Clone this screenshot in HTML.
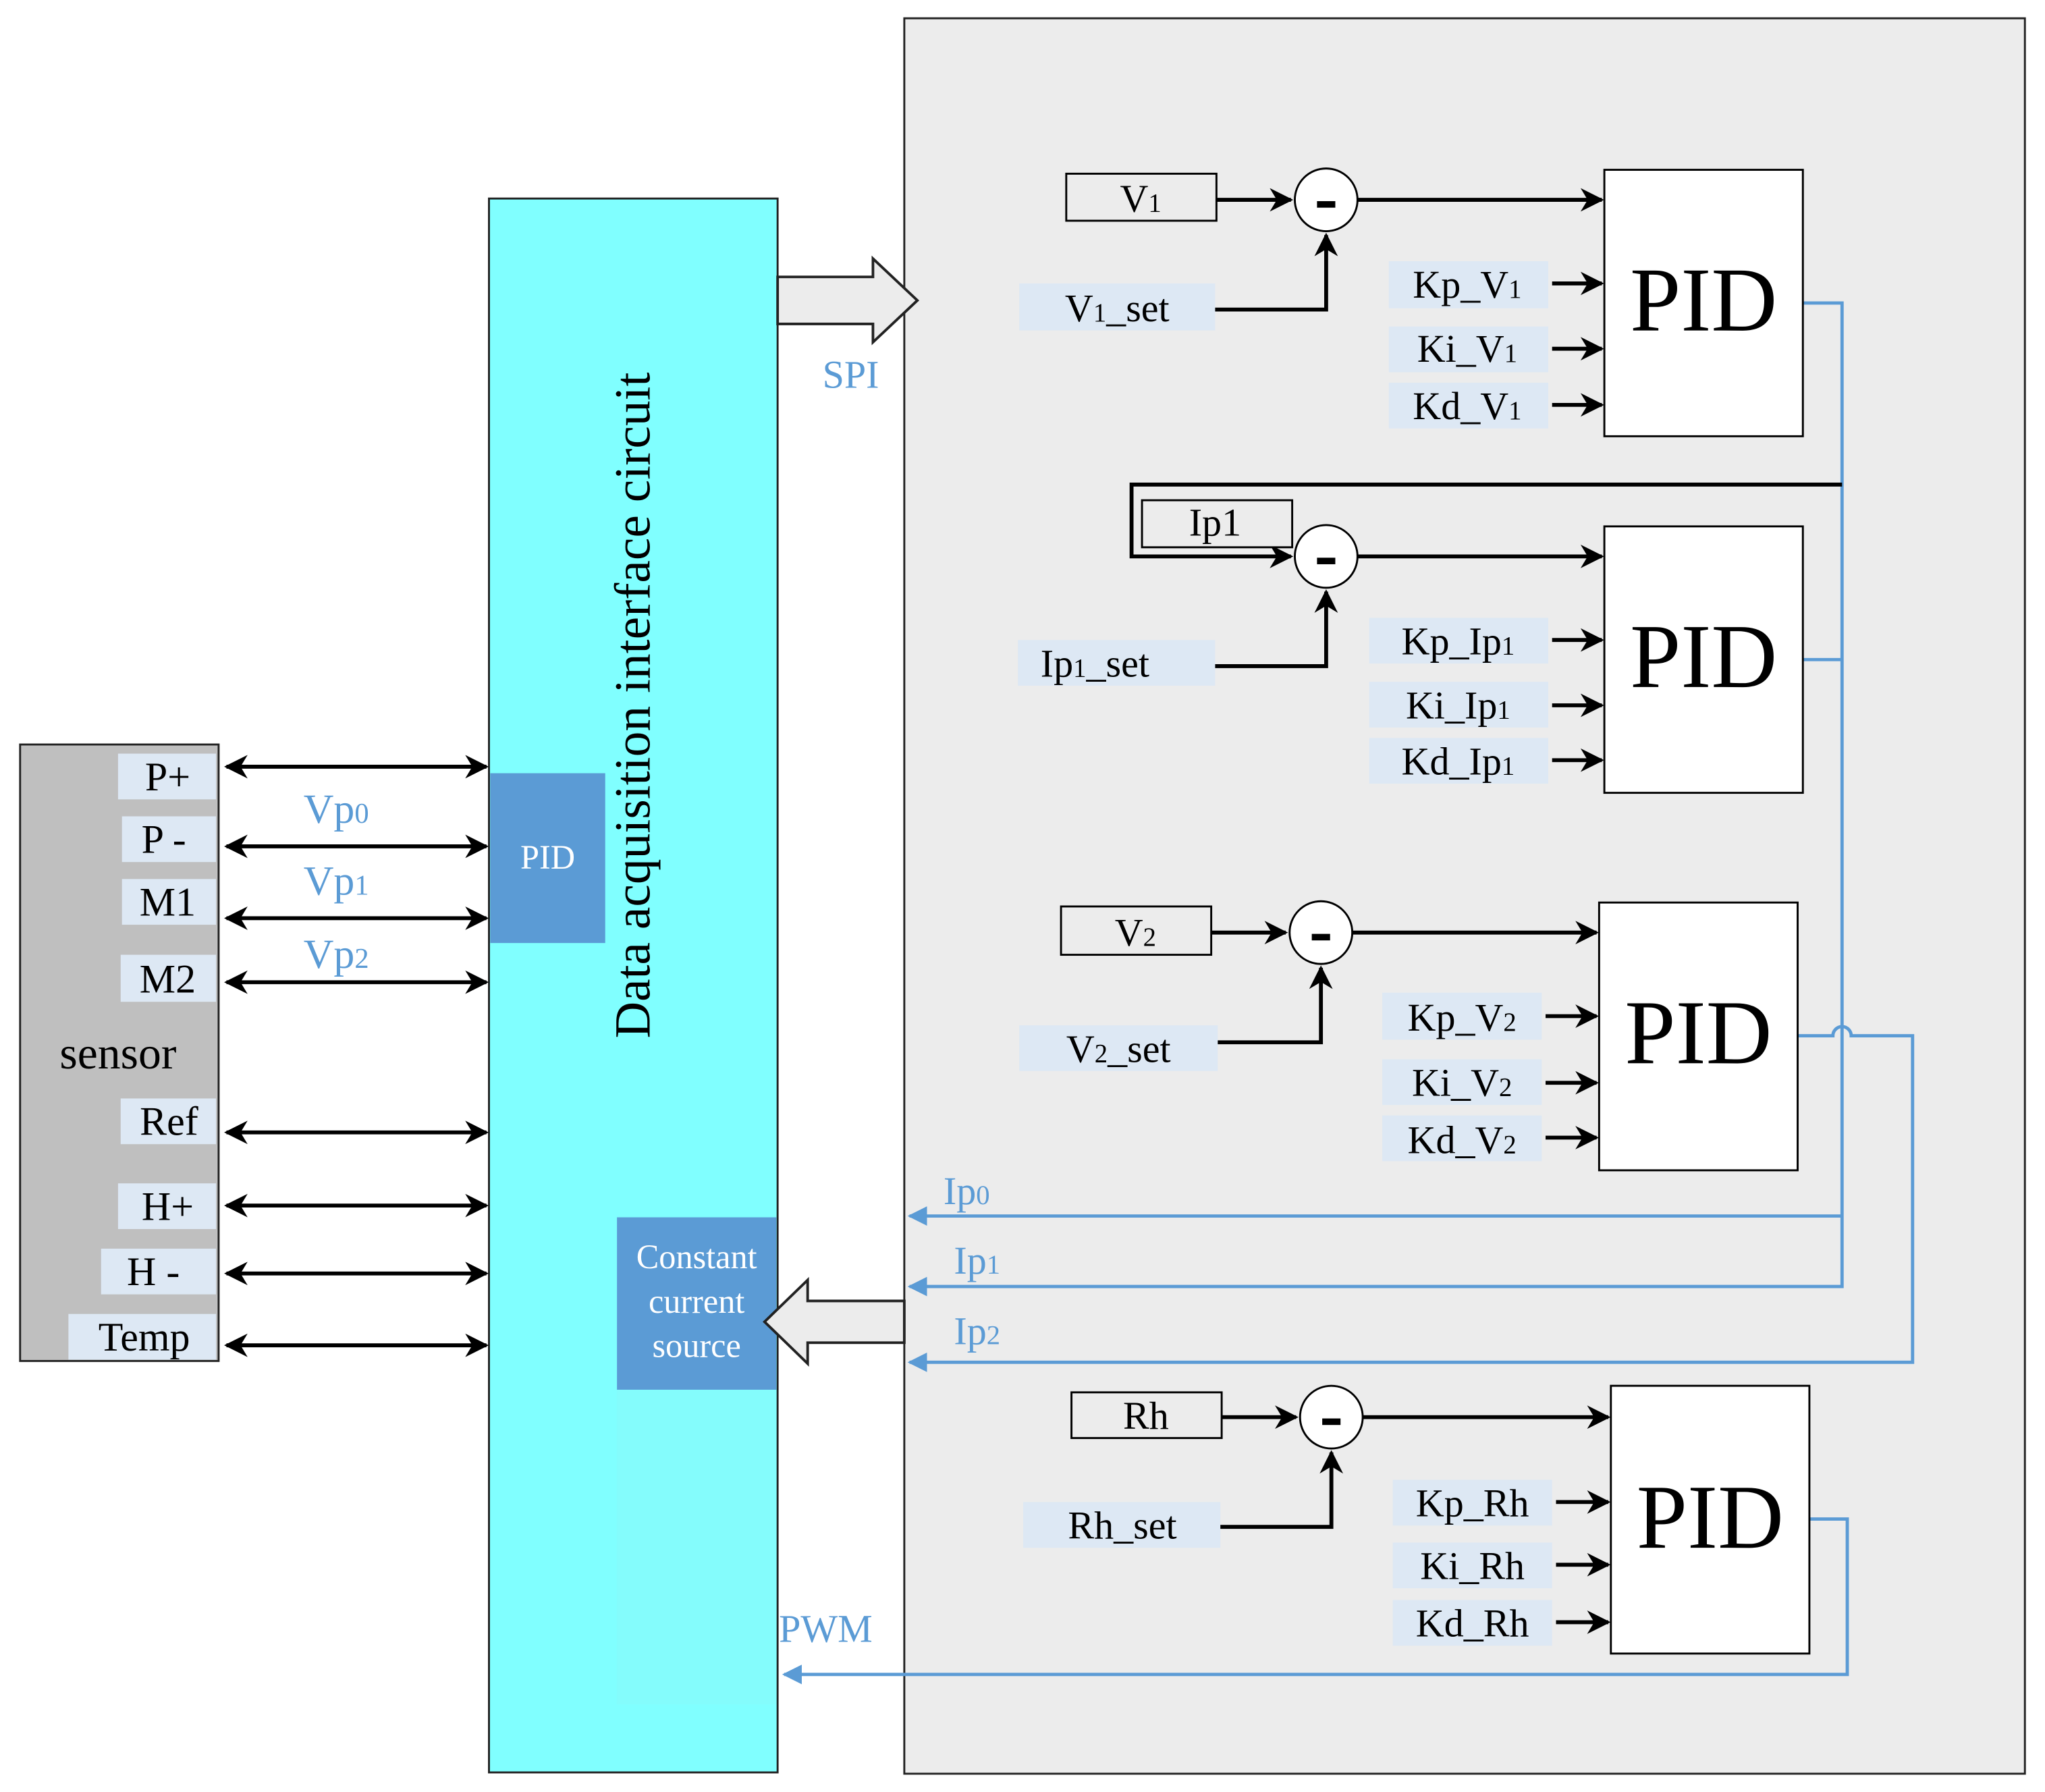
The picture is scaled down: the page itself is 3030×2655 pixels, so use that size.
<!DOCTYPE html>
<html><head><meta charset="utf-8"><style>
html,body{margin:0;padding:0;background:#fff}
svg{display:block}
text{font-family:"Liberation Serif",serif}
</style></head><body>
<svg width="3030" height="2655" viewBox="0 0 1565 1372" xmlns="http://www.w3.org/2000/svg">
<defs>
<marker id="a" viewBox="0 0 10 10" refX="9" refY="5" markerWidth="6" markerHeight="6" orient="auto-start-reverse"><path d="M0,0 L10,5 L0,10 L3,5 z" fill="#000"/></marker>
<marker id="b" viewBox="0 0 10 10" refX="9" refY="5" markerWidth="6" markerHeight="6" orient="auto"><path d="M0,0 L10,5 L0,10 z" fill="#5b9bd5"/></marker>
</defs>
<rect width="1565" height="1372" fill="#fff"/>
<rect x="692" y="14" width="858" height="1344" fill="#ececec" stroke="#222" stroke-width="1.5"/>
<rect x="374" y="152" width="221" height="1205" fill="#80ffff" stroke="#222" stroke-width="1.5"/>
<rect x="472" y="1064" width="122" height="241" fill="#84fcfc"/>
<text transform="translate(497,540) rotate(-90)" font-size="39" text-anchor="middle">Data acquisition interface circuit</text>
<rect x="375" y="592" width="88" height="130" fill="#5b9bd5"/>
<text x="419" y="665" font-size="26" fill="#fff" text-anchor="middle">PID</text>
<rect x="472" y="932" width="122" height="132" fill="#5b9bd5"/>
<g font-size="26" fill="#fff" text-anchor="middle"><text x="533" y="971">Constant</text><text x="533" y="1005">current</text><text x="533" y="1039">source</text></g>
<path d="M595,212 L668,212 L668,198 L702,230 L668,262 L668,248 L595,248 z" fill="#ececec" stroke="#222" stroke-width="2"/>
<text x="651" y="297" font-size="30" fill="#5b9bd5" text-anchor="middle">SPI</text>
<path d="M692,996 L618,996 L618,980 L585,1012 L618,1044 L618,1028 L692,1028 z" fill="#ececec" stroke="#222" stroke-width="2"/>
<rect x="15" y="570" width="152" height="472" fill="#bfbfbf" stroke="#222" stroke-width="1.5"/>
<g fill="#dde8f4"><rect x="90" y="577" width="75" height="35"/><rect x="93" y="625" width="72" height="35"/><rect x="93" y="673" width="72" height="35"/><rect x="92" y="731" width="73" height="36"/><rect x="92" y="841" width="73" height="35"/><rect x="90" y="906" width="75" height="35"/><rect x="77" y="956" width="88" height="35"/><rect x="52" y="1006" width="113" height="35"/></g>
<g font-size="31" text-anchor="middle"><text x="128" y="605">P+</text><text x="125" y="653">P -</text><text x="128" y="701">M1</text><text x="128" y="760">M2</text><text x="90" y="818" font-size="35">sensor</text><text x="129" y="869">Ref</text><text x="128" y="934">H+</text><text x="117" y="984">H -</text><text x="110" y="1034">Temp</text></g>
<g stroke="#000" stroke-width="3" marker-start="url(#a)" marker-end="url(#a)">
<line x1="173" y1="587" x2="372" y2="587"/><line x1="173" y1="648" x2="372" y2="648"/><line x1="173" y1="703" x2="372" y2="703"/><line x1="173" y1="752" x2="372" y2="752"/><line x1="173" y1="867" x2="372" y2="867"/><line x1="173" y1="923" x2="372" y2="923"/><line x1="173" y1="975" x2="372" y2="975"/><line x1="173" y1="1030" x2="372" y2="1030"/></g>
<g font-size="32" fill="#5b9bd5"><text x="232" y="630">Vp<tspan font-size="22">0</tspan></text><text x="232" y="685">Vp<tspan font-size="22">1</tspan></text><text x="232" y="741">Vp<tspan font-size="22">2</tspan></text></g>
<g stroke="#5b9bd5" stroke-width="2.5" fill="none">
<polyline points="1380,232 1410,232 1410,985 696,985" marker-end="url(#b)"/>
<polyline points="1380,505 1410,505"/>
<polyline points="1410,931 696,931" marker-end="url(#b)"/>
<path d="M1376,793 L1403,793 A7,7 0 0 1 1417,793 L1464,793 L1464,1043 L696,1043" marker-end="url(#b)"/>
<polyline points="1385,1163 1414,1163 1414,1282 600,1282" marker-end="url(#b)"/>
</g>
<g font-size="30" fill="#5b9bd5"><text x="722" y="922">Ip<tspan font-size="21">0</tspan></text><text x="730" y="975">Ip<tspan font-size="21">1</tspan></text><text x="730" y="1029">Ip<tspan font-size="21">2</tspan></text><text x="596" y="1257">PWM</text></g>
<polyline points="1410,371 866,371 866,426 988,426" fill="none" stroke="#000" stroke-width="3" marker-end="url(#a)"/>
<g stroke="#000" stroke-width="1.5" fill="#fff">
<rect x="1228" y="130" width="152" height="204"/><rect x="1228" y="403" width="152" height="204"/><rect x="1224" y="691" width="152" height="205"/><rect x="1233" y="1061" width="152" height="205"/>
<rect x="816" y="133" width="115" height="36" fill="#ececec"/><rect x="874" y="383" width="115" height="36" fill="#ececec"/><rect x="812" y="694" width="115" height="37" fill="#ececec"/><rect x="820" y="1066" width="115" height="35" fill="#ececec"/>
<circle cx="1015" cy="153" r="24"/><circle cx="1015" cy="426" r="24"/><circle cx="1011" cy="714" r="24"/><circle cx="1019" cy="1085" r="24"/>
</g>
<g fill="#000"><rect x="1008" y="154" width="14" height="5"/><rect x="1008" y="427" width="14" height="5"/><rect x="1004" y="715" width="14" height="5"/><rect x="1012" y="1086" width="14" height="5"/></g>
<g font-size="70" text-anchor="middle"><text x="1304" y="253">PID</text><text x="1304" y="526">PID</text><text x="1300" y="814">PID</text><text x="1309" y="1185">PID</text></g>
<g fill="#dde8f4">
<rect x="780" y="217" width="150" height="36"/><rect x="779" y="490" width="151" height="35"/><rect x="780" y="785" width="152" height="35"/><rect x="783" y="1150" width="151" height="35"/>
<rect x="1063" y="200" width="122" height="36"/><rect x="1063" y="250" width="122" height="35"/><rect x="1063" y="293" width="122" height="35"/>
<rect x="1048" y="473" width="137" height="35"/><rect x="1048" y="522" width="137" height="35"/><rect x="1048" y="565" width="137" height="35"/>
<rect x="1058" y="760" width="122" height="36"/><rect x="1058" y="811" width="122" height="35"/><rect x="1058" y="854" width="122" height="35"/>
<rect x="1066" y="1133" width="122" height="35"/><rect x="1066" y="1181" width="122" height="35"/><rect x="1066" y="1225" width="122" height="35"/>
</g>
<g stroke="#000" stroke-width="3" fill="none" marker-end="url(#a)">
<line x1="931" y1="153" x2="988" y2="153"/><line x1="1039" y1="153" x2="1226" y2="153"/><polyline points="930,237 1015,237 1015,180"/>
<line x1="1039" y1="426" x2="1226" y2="426"/><polyline points="930,510 1015,510 1015,453"/>
<line x1="927" y1="714" x2="984" y2="714"/><line x1="1035" y1="714" x2="1222" y2="714"/><polyline points="932,798 1011,798 1011,741"/>
<line x1="935" y1="1085" x2="992" y2="1085"/><line x1="1043" y1="1085" x2="1231" y2="1085"/><polyline points="934,1169 1019,1169 1019,1112"/>
<line x1="1188" y1="217" x2="1226" y2="217"/><line x1="1188" y1="267" x2="1226" y2="267"/><line x1="1188" y1="310" x2="1226" y2="310"/>
<line x1="1188" y1="490" x2="1226" y2="490"/><line x1="1188" y1="540" x2="1226" y2="540"/><line x1="1188" y1="582" x2="1226" y2="582"/>
<line x1="1183" y1="778" x2="1222" y2="778"/><line x1="1183" y1="829" x2="1222" y2="829"/><line x1="1183" y1="871" x2="1222" y2="871"/>
<line x1="1191" y1="1150" x2="1231" y2="1150"/><line x1="1191" y1="1198" x2="1231" y2="1198"/><line x1="1191" y1="1242" x2="1231" y2="1242"/>
</g>
<g font-size="30" text-anchor="middle">
<text x="873" y="162">V<tspan font-size="20">1</tspan></text><text x="930" y="410">Ip1</text><text x="869" y="724">V<tspan font-size="20">2</tspan></text><text x="877" y="1094">Rh</text>
<text x="855" y="246">V<tspan font-size="20">1</tspan>_set</text><text x="838" y="518">Ip<tspan font-size="20">1</tspan>_set</text><text x="856" y="813">V<tspan font-size="20">2</tspan>_set</text><text x="859" y="1178">Rh_set</text>
<text x="1123" y="228">Kp_V<tspan font-size="20">1</tspan></text><text x="1123" y="277">Ki_V<tspan font-size="20">1</tspan></text><text x="1123" y="321">Kd_V<tspan font-size="20">1</tspan></text>
<text x="1116" y="501">Kp_Ip<tspan font-size="20">1</tspan></text><text x="1116" y="550">Ki_Ip<tspan font-size="20">1</tspan></text><text x="1116" y="593">Kd_Ip<tspan font-size="20">1</tspan></text>
<text x="1119" y="789">Kp_V<tspan font-size="20">2</tspan></text><text x="1119" y="839">Ki_V<tspan font-size="20">2</tspan></text><text x="1119" y="883">Kd_V<tspan font-size="20">2</tspan></text>
<text x="1127" y="1161">Kp_Rh</text><text x="1127" y="1209">Ki_Rh</text><text x="1127" y="1253">Kd_Rh</text>
</g>
</svg>
</body></html>
